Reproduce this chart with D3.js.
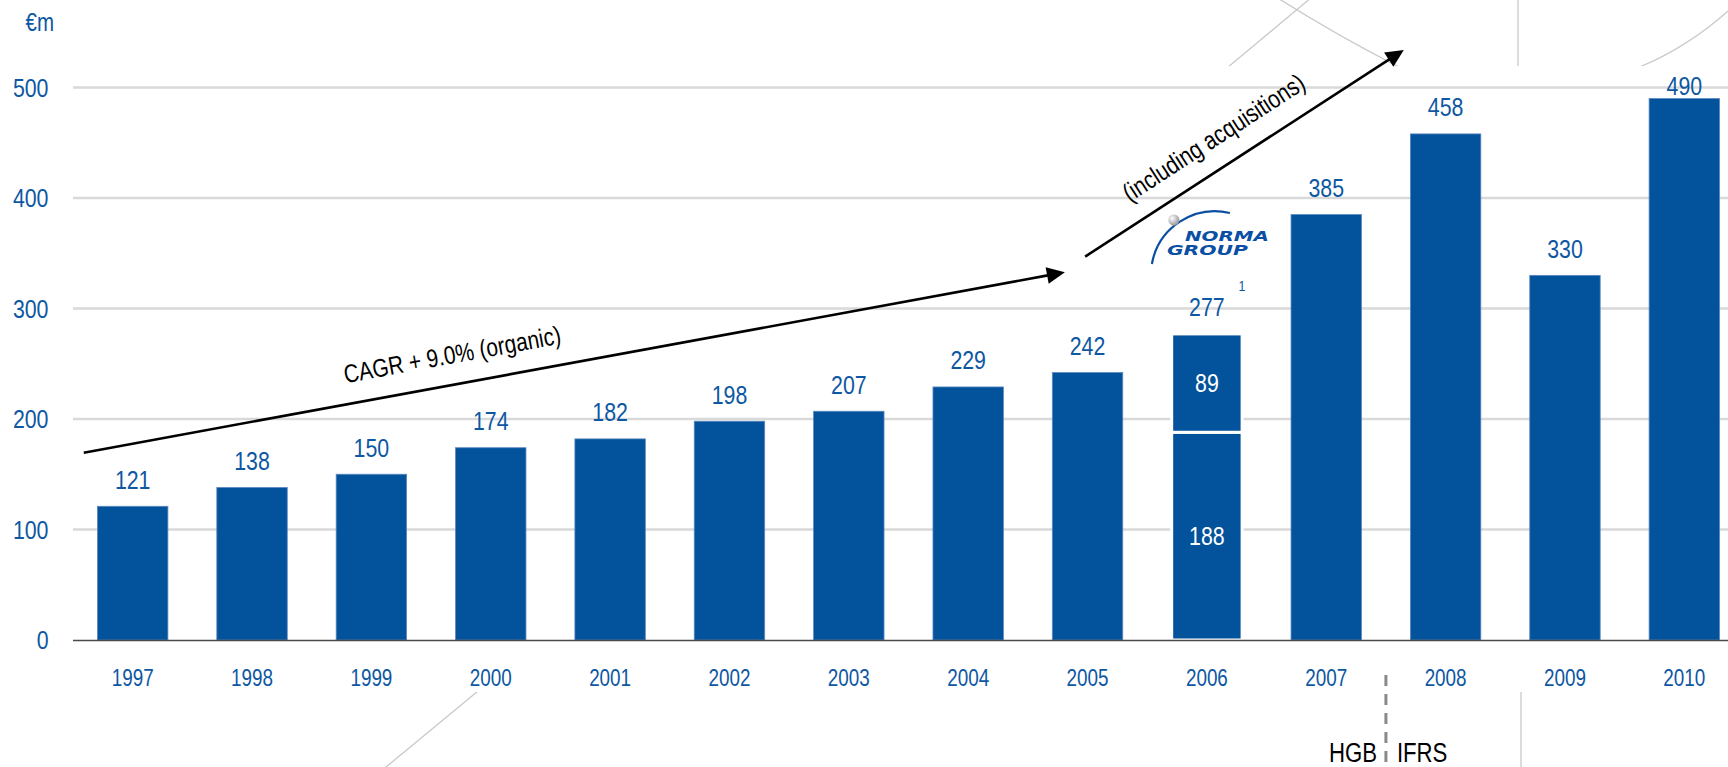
<!DOCTYPE html>
<html>
<head>
<meta charset="utf-8">
<script src="https://cdn.jsdelivr.net/npm/d3@7"></script>
<style>
  html, body { margin: 0; padding: 0; background: #fff; overflow: hidden; }
  svg { display: block; }
  text { font-family: "Liberation Sans", Arial, sans-serif; }
</style>
</head>
<body>
<svg id="chart" width="1728" height="767"></svg>
<script>
// Sales, € million
const years = ["1997", "1998", "1999", "2000", "2001", "2002", "2003", "2004", "2005", "2006", "2007", "2008", "2009", "2010"];
const sales = [121, 138, 150, 174, 182, 198, 207, 229, 242, 277, 385, 458, 330, 490];
// 2006 split: organic base and acquired part
const splitYear = "2006";
const splitValues = [188, 89];
const yTicks = [0, 100, 200, 300, 400, 500];
const unitLabel = "€m";
const footnoteMark = "1";
const standardLabels = ["HGB", "IFRS"];
const cagrLabel = "CAGR + 9.0% (organic)";
const acqLabel = "(including acquisitions)";

const W = 1728, H = 767;
const BLUE = "#02539c";
const LABEL_BLUE = "#0d57a3";
const NARROW = 0.82; // condensed lettering

const svg = d3.select("#chart");

const x = d3.scaleBand().domain(years).range([73, 1744]).paddingInner(0.41).paddingOuter(0.205);
const y = d3.scaleLinear().domain([0, 500]).range([640, 87.5]);
const bandCenter = yr => x(yr) + x.bandwidth() / 2;
// position measured in category steps from the first category centre
const xIdx = i => bandCenter(years[0]) + i * x.step();

// ---- background line art, only visible above and below the white panel
const defs = svg.append("defs");
defs.append("clipPath").attr("id", "decoClip")
  .selectAll("rect").data([[0, 0, W, 66], [0, 692, W, H - 692]]).join("rect")
  .attr("x", d => d[0]).attr("y", d => d[1]).attr("width", d => d[2]).attr("height", d => d[3]);

const deco = svg.append("g").attr("clip-path", "url(#decoClip)")
  .attr("fill", "none").attr("stroke", "#c9c9c9").attr("stroke-width", 1.3);
deco.append("path").attr("d", "M1215,78 L1318,-8");
deco.append("path").attr("d", "M1262,-12 Q1335,35 1405,70");
deco.append("path").attr("d", "M1518,0 L1518,70");
deco.append("path").attr("d", "M1632,70 Q1690,48 1740,0");
deco.append("path").attr("d", "M495,677 L380,772");
deco.append("path").attr("d", "M1521,690 L1521,770");

// ---- gridlines
svg.append("g").selectAll("line").data(yTicks.filter(t => t > 0)).join("line")
  .attr("x1", 73).attr("x2", W)
  .attr("y1", d => y(d)).attr("y2", d => y(d))
  .attr("stroke", "#d9d9d9").attr("stroke-width", 2.6);

// ---- y axis labels
svg.append("g").selectAll("text").data(yTicks).join("text")
  .attr("class", "n")
  .attr("x", 48.5).attr("y", d => y(d)).attr("dy", "0.35em")
  .attr("text-anchor", "end").attr("font-size", 26).attr("fill", LABEL_BLUE)
  .text(d => d);
svg.append("text").attr("class", "n").attr("x", 54).attr("y", 31).attr("text-anchor", "end")
  .attr("font-size", 25).attr("fill", LABEL_BLUE).text(unitLabel);

// ---- bars
const rows = years.map((yr, i) => ({ year: yr, value: sales[i] }));
svg.append("g").selectAll("rect").data(rows.filter(d => d.year !== splitYear)).join("rect")
  .attr("x", d => x(d.year)).attr("width", x.bandwidth())
  .attr("y", d => y(d.value)).attr("height", d => y(0) - y(d.value))
  .attr("fill", BLUE).attr("stroke", "#5b86bf").attr("stroke-width", 0.8);

// stacked 2006 bar
let acc = 0;
const segs = splitValues.map(v => { const s = { lo: acc, hi: acc + v, value: v }; acc += v; return s; });
const split = svg.append("g");
split.selectAll("rect").data(segs).join("rect")
  .attr("x", x(splitYear)).attr("width", x.bandwidth())
  .attr("y", d => y(d.hi)).attr("height", d => y(d.lo) - y(d.hi))
  .attr("fill", BLUE).attr("stroke", "#fff").attr("stroke-width", 3);
split.selectAll("text").data(segs).join("text")
  .attr("class", "n")
  .attr("x", bandCenter(splitYear)).attr("y", d => (y(d.lo) + y(d.hi)) / 2).attr("dy", "0.35em")
  .attr("text-anchor", "middle").attr("font-size", 26).attr("fill", "#fff")
  .text(d => d.value);

// ---- axis baseline
svg.append("line").attr("x1", 73).attr("x2", W).attr("y1", y(0) + 0.5).attr("y2", y(0) + 0.5)
  .attr("stroke", "#4a4a4a").attr("stroke-width", 1.6);

// ---- value labels
const topLimit = y(500) + 7;
svg.append("g").selectAll("text").data(rows).join("text")
  .attr("class", "n")
  .attr("x", d => bandCenter(d.year))
  .attr("y", d => Math.max(y(d.value) - 17.5, topLimit))
  .attr("text-anchor", "middle").attr("font-size", 26).attr("fill", LABEL_BLUE)
  .text(d => d.value);

const splitRow = rows.find(d => d.year === splitYear);
svg.append("text")
  .attr("class", "n")
  .attr("x", bandCenter(splitYear) + 35).attr("y", y(splitRow.value) - 43)
  .attr("text-anchor", "middle").attr("font-size", 15).attr("fill", LABEL_BLUE)
  .text(footnoteMark);

// ---- year labels
svg.append("g").selectAll("text").data(years).join("text")
  .attr("class", "n")
  .attr("x", d => bandCenter(d)).attr("y", 686)
  .attr("text-anchor", "middle").attr("font-size", 23).attr("fill", LABEL_BLUE)
  .text(d => d);

// ---- trend arrows
const arrows = [
  { from: [-0.41, 169.5], to: [7.81, 332.8], label: cagrLabel, at: 0.381, off: 30 },
  { from: [7.98, 347], to: [10.65, 534], label: acqLabel, at: 0.454, off: 30 }
];
const arrowG = svg.append("g");
arrows.forEach(a => {
  const x1 = xIdx(a.from[0]), y1 = y(a.from[1]);
  const x2 = xIdx(a.to[0]), y2 = y(a.to[1]);
  const dx = x2 - x1, dy = y2 - y1, len = Math.hypot(dx, dy);
  const ux = dx / len, uy = dy / len, nx = uy, ny = -ux; // normal pointing up-left
  const headL = 18, headW = 8.5;
  arrowG.append("line")
    .attr("x1", x1).attr("y1", y1)
    .attr("x2", x2 - ux * (headL - 2)).attr("y2", y2 - uy * (headL - 2))
    .attr("stroke", "#000").attr("stroke-width", 2.6);
  const bx = x2 - ux * headL, by = y2 - uy * headL;
  arrowG.append("path")
    .attr("d", `M${x2},${y2}L${bx + nx * headW},${by + ny * headW}L${bx - nx * headW},${by - ny * headW}Z`)
    .attr("fill", "#000");
  const tx = x1 + dx * a.at + nx * a.off, ty = y1 + dy * a.at + ny * a.off;
  const ang = Math.atan2(dy, dx) * 180 / Math.PI;
  arrowG.append("text")
    .attr("class", "n")
    .attr("transform", `translate(${tx},${ty}) rotate(${ang})`)
    .attr("dy", "0.35em").attr("text-anchor", "middle")
    .attr("font-size", 25.5).attr("fill", "#000")
    .text(a.label);
});

// ---- company logo above the 2006 bar
const logo = svg.append("g").attr("transform", `translate(${bandCenter(splitYear)},232)`);
const grad = defs.append("radialGradient").attr("id", "ball").attr("cx", "35%").attr("cy", "35%").attr("r", "65%");
grad.append("stop").attr("offset", "0%").attr("stop-color", "#ffffff");
grad.append("stop").attr("offset", "100%").attr("stop-color", "#9a9a9a");
logo.append("path").attr("d", "M-55,32 A64,64 0 0 1 23,-19")
  .attr("fill", "none").attr("stroke", "#0a4fa3").attr("stroke-width", 2.2);
logo.append("circle").attr("cx", -33).attr("cy", -12).attr("r", 5.5).attr("fill", "url(#ball)");
logo.append("text").attr("x", -22).attr("y", 9)
  .attr("textLength", 84).attr("lengthAdjust", "spacingAndGlyphs")
  .style("font-family", "'DejaVu Sans', sans-serif").attr("font-weight", "bold").attr("font-style", "italic")
  .attr("font-size", 14.5).attr("fill", "#0a4fa3").text("NORMA");
logo.append("text").attr("x", -40).attr("y", 22.5)
  .attr("textLength", 81).attr("lengthAdjust", "spacingAndGlyphs")
  .style("font-family", "'DejaVu Sans', sans-serif").attr("font-weight", "bold").attr("font-style", "italic")
  .attr("font-size", 14.5).attr("fill", "#0a4fa3").text("GROUP");

// ---- accounting standard change between 2007 and 2008
const splitX = (x("2007") + x.bandwidth() + x("2008")) / 2;
svg.append("line").attr("x1", splitX).attr("x2", splitX).attr("y1", 675).attr("y2", H)
  .attr("stroke", "#8a8a8a").attr("stroke-width", 3).attr("stroke-dasharray", "11,8");
svg.append("text").attr("class", "n").attr("x", splitX - 9).attr("y", 762).attr("text-anchor", "end")
  .attr("font-size", 27).attr("fill", "#000").text(standardLabels[0]);
svg.append("text").attr("class", "n").attr("x", splitX + 11).attr("y", 762).attr("text-anchor", "start")
  .attr("font-size", 27).attr("fill", "#000").text(standardLabels[1]);

// condense the regular lettering horizontally
svg.selectAll("text.n").each(function () {
  const w = this.getComputedTextLength();
  this.setAttribute("textLength", (w * NARROW).toFixed(2));
  this.setAttribute("lengthAdjust", "spacingAndGlyphs");
});
</script>
</body>
</html>
